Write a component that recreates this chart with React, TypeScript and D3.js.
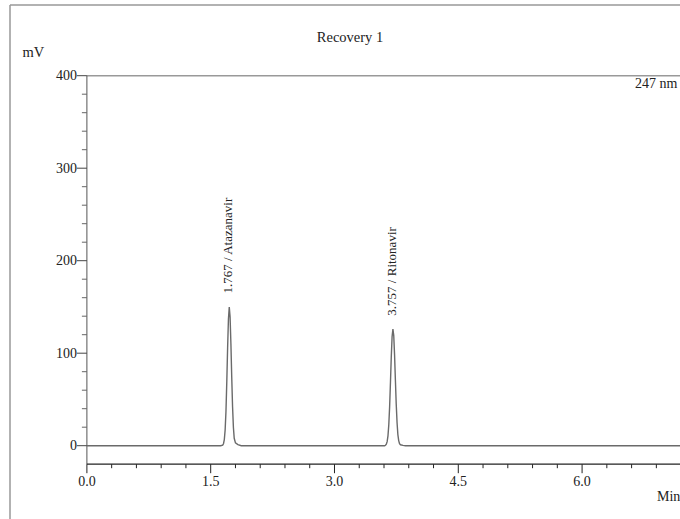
import React from "react";
import * as d3 from "d3";

const W = 680;
const H = 519;

// Trace data (time in min, signal in mV)
const ataTime = [0, 1.62, 1.645, 1.655, 1.665, 1.675, 1.685, 1.695, 1.705, 1.715, 1.725, 1.735, 1.745, 1.755, 1.765, 1.775, 1.785, 1.8, 1.83, 1.87];
const ataSignal = [0, 0, 0.6, 2.1, 6.6, 17, 37, 69, 106, 137, 150, 139, 110, 74, 42, 20, 8, 3, 1.2, 0];
const ritTime = [3.608, 3.618, 3.628, 3.638, 3.648, 3.658, 3.668, 3.678, 3.688, 3.698, 3.708, 3.718, 3.728, 3.738, 3.748, 3.758, 3.768, 3.778, 3.788, 3.8, 3.83, 3.86, 7.5];
const ritSignal = [0, 0.5, 1.6, 4.4, 10.7, 22.7, 42, 68, 96, 118, 126, 119, 98, 71, 45, 25, 12, 5.5, 2.2, 1, 0.3, 0, 0];

const peakTimes = [1.725, 3.708];
const peakHeights = [150, 126];
const peakLabels = ["1.767 / Atazanavir", "3.757 / Ritonavir"];

const xMajorTicks = [0, 1.5, 3, 4.5, 6];
const yMajorTicks = [0, 100, 200, 300, 400];

const title = "Recovery 1";
const yUnit = "mV";
const xUnit = "Min";
const wavelength = "247 nm";

export default function App() {
  const x = d3.scaleLinear().domain([0, 7.5]).range([86.9, 86.9 + 7.5 * 82.53]);
  const y = d3.scaleLinear().domain([0, 400]).range([445.7, 75.7]);
  const yAxisBottom = y(-20);

  const trace: [number, number][] = [
    ...ataTime.map((t, i) => [t, ataSignal[i]] as [number, number]),
    ...ritTime.map((t, i) => [t, ritSignal[i]] as [number, number]),
  ];
  const line = d3
    .line<[number, number]>()
    .x((d) => x(d[0]))
    .y((d) => y(d[1]));

  const xMinor = d3.range(0, 7.2001, 0.3).filter((v) => !xMajorTicks.some((m) => Math.abs(m - v) < 1e-6));
  const yMinor = d3.range(0, 400.001, 20).filter((v) => v % 100 !== 0);

  const font = "'Liberation Serif', 'Times New Roman', serif";
  const x0 = x(0);

  return (
    <svg
      width={W}
      height={H}
      style={{ position: "fixed", left: 0, top: 0, background: "#fff" }}
      fontFamily={font}
    >
      <rect x={0} y={0} width={W} height={H} fill="#fff" />
      {/* outer frame */}
      <line x1={10} y1={5} x2={W + 10} y2={5} stroke="#999" strokeWidth={1.5} />
      <line x1={10} y1={5} x2={10} y2={H + 10} stroke="#999" strokeWidth={1.5} />

      <text x={350} y={41.5} fontSize={14.5} textAnchor="middle" fill="#222">{title}</text>
      <text x={22.5} y={56.5} fontSize={14.5} fill="#222">{yUnit}</text>
      <text x={635} y={88} fontSize={14} fill="#222">{wavelength}</text>

      {/* top line at 400 */}
      <line x1={x0} y1={y(400)} x2={W + 10} y2={y(400)} stroke="#999" strokeWidth={1.5} />

      {/* y axis */}
      <line x1={x0} y1={y(400)} x2={x0} y2={yAxisBottom} stroke="#555" strokeWidth={1} />
      {yMajorTicks.map((v) => (
        <g key={"ym" + v}>
          <line x1={x0 - 10} x2={x0} y1={y(v)} y2={y(v)} stroke="#444" strokeWidth={1} />
          <text x={77} y={y(v) + 4.7} fontSize={14} textAnchor="end" fill="#222">{v}</text>
        </g>
      ))}
      {yMinor.map((v) => (
        <line key={"yn" + v} x1={x0 - 5} x2={x0} y1={y(v)} y2={y(v)} stroke="#666" strokeWidth={1} />
      ))}

      {/* x axis */}
      <line x1={x0} y1={yAxisBottom} x2={W + 10} y2={yAxisBottom} stroke="#222" strokeWidth={1.2} />
      {xMajorTicks.map((v) => (
        <g key={"xm" + v}>
          <line x1={x(v)} x2={x(v)} y1={yAxisBottom} y2={yAxisBottom + 9} stroke="#222" strokeWidth={1} />
          <text x={x(v)} y={485.7} fontSize={14} textAnchor="middle" fill="#222">{v.toFixed(1)}</text>
        </g>
      ))}
      {xMinor.map((v) => (
        <line key={"xn" + v} x1={x(v)} x2={x(v)} y1={yAxisBottom} y2={yAxisBottom + 4} stroke="#222" strokeWidth={1} />
      ))}
      <text x={657} y={501} fontSize={14} fill="#222">{xUnit}</text>

      {/* trace */}
      <path d={line(trace) || ""} fill="none" stroke="#6a6a6a" strokeWidth={1.4} />

      {/* peak labels */}
      {peakTimes.map((t, i) => (
        <text
          key={"pl" + i}
          transform={`translate(${x(t) + 3},${y(peakHeights[i]) - 13.5}) rotate(-90)`}
          fontSize={13}
          fill="#222"
        >
          {peakLabels[i]}
        </text>
      ))}
    </svg>
  );
}
